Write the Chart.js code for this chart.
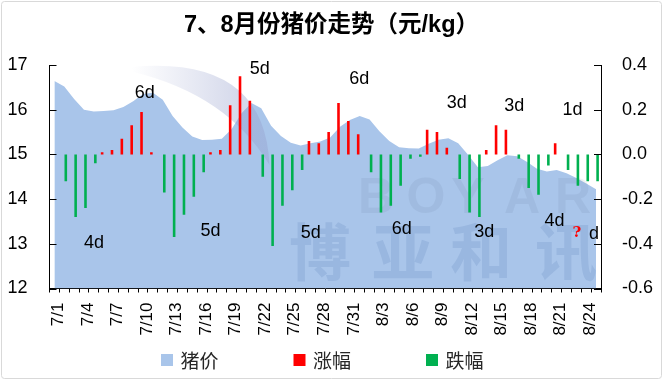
<!DOCTYPE html>
<html><head><meta charset="utf-8">
<script src="https://cdn.jsdelivr.net/npm/chart.js@4.4.0/dist/chart.umd.min.js"></script>
<style>html,body{margin:0;padding:0;background:#fff;}canvas{display:block;}</style>
</head><body>
<canvas id="c" width="663" height="380"></canvas>
<script>
const categories = ['7/1','7/2','7/3','7/4','7/5','7/6','7/7','7/8','7/9','7/10','7/11','7/12','7/13','7/14','7/15','7/16','7/17','7/18','7/19','7/20','7/21','7/22','7/23','7/24','7/25','7/26','7/27','7/28','7/29','7/30','7/31','8/1','8/2','8/3','8/4','8/5','8/6','8/7','8/8','8/9','8/10','8/11','8/12','8/13','8/14','8/15','8/16','8/17','8/18','8/19','8/20','8/21','8/22','8/23','8/24','8/25'];
const price = [16.64,16.52,16.24,16.00,15.96,15.97,15.99,16.06,16.19,16.35,16.38,16.22,15.86,15.60,15.40,15.32,15.33,15.35,15.57,15.92,16.15,16.03,15.64,15.41,15.26,15.20,15.25,15.29,15.38,15.62,15.77,15.86,15.78,15.52,15.30,15.16,15.14,15.13,15.24,15.33,15.36,15.25,14.99,14.71,14.74,14.87,14.98,14.96,14.83,14.68,14.62,14.65,14.58,14.47,14.35,14.22];
const rise = [null,null,null,null,null,0.01,0.02,0.07,0.13,0.19,0.01,null,null,null,null,null,0.01,0.02,0.22,0.35,0.24,null,null,null,null,null,0.06,0.05,0.10,0.23,0.15,0.09,null,null,null,null,null,null,0.11,0.10,0.03,null,null,null,0.02,0.13,0.11,null,null,null,null,0.05,null,null,null,null];
const fall = [null,-0.12,-0.28,-0.24,-0.04,null,null,null,null,null,null,-0.17,-0.37,-0.27,-0.19,-0.08,null,null,null,null,null,-0.10,-0.41,-0.23,-0.16,-0.07,null,null,null,null,null,null,-0.08,-0.26,-0.23,-0.14,-0.02,-0.01,null,null,null,-0.11,-0.26,-0.28,null,null,null,-0.02,-0.15,-0.18,-0.05,null,-0.07,-0.14,-0.12,-0.12];
const seriesNames = ['猪价','涨幅','跌幅'];
// streak notes: text, category position, price-axis height
const noteText = ['4d','6d','5d','5d','5d','6d','6d','3d','3d','3d','4d','1d','?','d'];
const noteCat = [4.02,9.17,15.85,20.86,26.04,30.95,35.26,40.85,43.65,46.7,50.77,52.6,53.04,54.78];
const noteVal = [13.02,16.37,13.28,16.90,13.25,16.68,13.34,16.16,13.27,16.09,13.51,15.99,13.25,13.22];

const AREA = '#A9C5EA', RED = '#FF0000', GREEN = '#00B050';
const LATIN = '"Liberation Sans", Arial, sans-serif';
const CJK = '"Liberation Sans", "Noto Sans CJK SC", sans-serif';

const framePlugin = {
  id: 'frame',
  beforeDraw(chart) {
    const c = chart.ctx; c.save();
    c.fillStyle = '#fff'; c.fillRect(0, 0, chart.width, chart.height);
    c.strokeStyle = '#D9D9D9'; c.lineWidth = 1;
    c.beginPath(); c.roundRect(1.5, 1.5, chart.width - 3, chart.height - 3, 3); c.stroke();
    c.restore();
  }
};

const watermarkPlugin = {
  id: 'watermark',
  afterDatasetDraw(chart, args) {
    if (args.index !== 0) return;
    const a = chart.chartArea, c = chart.ctx; c.save();
    c.beginPath(); c.rect(a.left, a.top, a.right - a.left, a.bottom - a.top); c.clip();
    // faint swoosh of the logo
    const g = c.createLinearGradient(a.left + 82, 0, a.left + 190, 0);
    g.addColorStop(0, 'rgba(150,160,205,0)'); g.addColorStop(1, 'rgba(150,160,205,0.40)');
    c.fillStyle = g;
    c.beginPath();
    c.moveTo(a.left + 82, a.top + 2);
    c.quadraticCurveTo(a.left + 215, a.top - 10, a.left + 220, a.top + 100);
    c.quadraticCurveTo(a.left + 178, a.top + 30, a.left + 84, a.top + 7);
    c.closePath(); c.fill();
    c.textAlign = 'center'; c.textBaseline = 'middle';
    c.font = 'bold 50px ' + LATIN; c.fillStyle = 'rgba(90,110,140,0.10)';
    const L = ['B','O','Y','A','R'], X = [376, 426, 468, 522, 573];
    L.forEach((t, i) => c.fillText(t, X[i], 199));
    c.font = 'bold 62px "Noto Sans CJK SC"'; c.fillStyle = 'rgba(60,100,165,0.14)';
    const C = ['博','亚','和','讯'], CX = [320, 403, 481, 566];
    C.forEach((t, i) => c.fillText(t, CX[i], 252));
    c.restore();
  }
};

const innerTicksPlugin = {
  id: 'innerTicks',
  afterDraw(chart) {
    const c = chart.ctx, L = chart.scales.y, R = chart.scales.y1; c.save();
    c.strokeStyle = '#000'; c.lineWidth = 1;
    L.ticks.forEach((t, i) => { const y = Math.round(L.getPixelForTick(i)) + 0.5; c.beginPath(); c.moveTo(L.right, y); c.lineTo(L.right + 7, y); c.stroke(); });
    R.ticks.forEach((t, i) => { const y = Math.round(R.getPixelForTick(i)) + 0.5; c.beginPath(); c.moveTo(R.left, y); c.lineTo(R.left - 7, y); c.stroke(); });
    c.restore();
  }
};

const notesPlugin = {
  id: 'notes',
  afterDatasetsDraw(chart) {
    const c = chart.ctx, x = chart.scales.x, y = chart.scales.y; c.save();
    c.textAlign = 'center'; c.textBaseline = 'middle';
    noteText.forEach((t, i) => {
      if (t === '?') { c.font = 'bold 15px "DejaVu Serif", serif'; c.fillStyle = '#FF0000'; }
      else { c.font = '18px ' + LATIN; c.fillStyle = '#000'; }
      c.fillText(t, x.getPixelForValue(noteCat[i]), y.getPixelForValue(noteVal[i]));
    });
    c.restore();
  }
};

const legendPlugin = {
  id: 'customLegend',
  afterDraw(chart) {
    const c = chart.ctx; c.save();
    c.font = '19px "Noto Sans CJK SC", sans-serif'; c.textBaseline = 'middle'; c.textAlign = 'left';
    let x = 161; const yc = 360;
    chart.data.datasets.forEach(ds => {
      c.fillStyle = ds.legendColor; c.fillRect(x, yc - 6, 12, 12);
      c.fillStyle = '#262626'; c.fillText(ds.label, x + 19.5, yc + 1);
      x += 19.5 + c.measureText(ds.label).width + 75;
    });
    c.restore();
  }
};

new Chart(document.getElementById('c'), {
  data: {
    labels: categories,
    datasets: [
      { type: 'line', label: seriesNames[0], data: price, yAxisID: 'y', fill: 'start', backgroundColor: AREA, legendColor: AREA,
        borderWidth: 0, borderColor: 'rgba(0,0,0,0)', pointRadius: 0, tension: 0, order: 2 },
      { type: 'bar', label: seriesNames[1], data: rise, yAxisID: 'y1', backgroundColor: RED, legendColor: RED,
        categoryPercentage: 0.62, barPercentage: 0.85, order: 1 },
      { type: 'bar', label: seriesNames[2], data: fall, yAxisID: 'y1', backgroundColor: GREEN, legendColor: GREEN,
        categoryPercentage: 0.62, barPercentage: 0.85, order: 1 }
    ]
  },
  options: {
    responsive: false, maintainAspectRatio: false, animation: false, devicePixelRatio: 1,
    layout: { padding: { left: 0, right: 0, top: 0, bottom: 32 } },
    plugins: {
      legend: { display: false }, tooltip: { enabled: false },
      title: { display: true, text: '7、8月份猪价走势（元/kg）', color: '#000',
        font: { family: CJK, size: 23.5, weight: 'bold', lineHeight: 1.2 }, padding: { top: 11, bottom: 25.8 } }
    },
    scales: {
      x: {
        offset: true,
        grid: { display: true, drawOnChartArea: false, drawTicks: true, tickLength: 4, color: '#000', offset: true },
        border: { display: true, color: '#000', width: 1 },
        ticks: { autoSkip: false, maxRotation: 90, minRotation: 90, padding: 10, labelOffset: 4, color: '#000',
          font: { family: LATIN, size: 17 }, callback: (v, i) => (i % 3 === 0 ? categories[i] : '') },
        afterFit: s => { s.height = 59.5; }
      },
      y: {
        position: 'left', min: 12, max: 17,
        grid: { display: false }, border: { display: true, color: '#000', width: 1 },
        ticks: { stepSize: 1, padding: 14, color: '#000', font: { family: LATIN, size: 18 } },
        afterFit: s => { s.width = 49.5; }
      },
      y1: {
        position: 'right', min: -0.6, max: 0.4,
        grid: { display: false }, border: { display: true, color: '#000', width: 1 },
        ticks: { stepSize: 0.2, padding: 13, color: '#000', font: { family: LATIN, size: 18 },
          callback: v => (Math.abs(v) < 1e-9 ? 0 : v).toFixed(1) },
        afterFit: s => { s.width = 62; }
      }
    }
  },
  plugins: [framePlugin, watermarkPlugin, innerTicksPlugin, notesPlugin, legendPlugin]
});
</script>
</body></html>
